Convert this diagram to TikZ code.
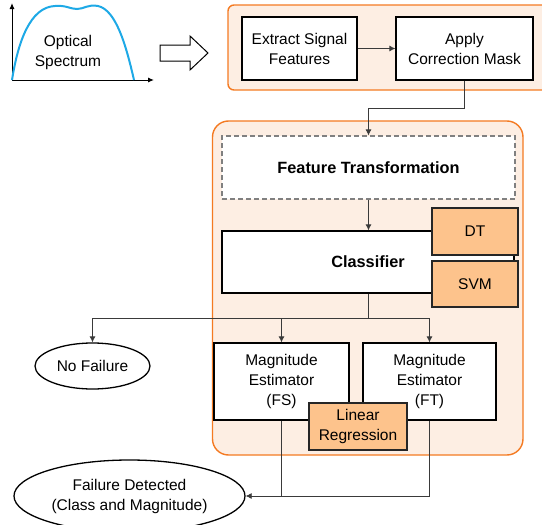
\documentclass[tikz,border=0pt]{standalone}
\usepackage{fontspec}
\setmainfont{Liberation Sans}
\usetikzlibrary{arrows.meta,shapes.geometric}
\definecolor{orgline}{HTML}{F47A22}
\definecolor{orgfill}{HTML}{FDEEE3}
\definecolor{orgbox}{HTML}{FDC38C}
\definecolor{specblue}{HTML}{1EA9E6}
\definecolor{conn}{HTML}{3A3A3A}
\tikzset{
  every node/.style={font=\fontsize{15.5}{20}\selectfont, align=center},
  boldtext/.style={font=\fontsize{16.3}{20}\selectfont\bfseries},
  container/.style={draw=orgline, fill=orgfill, line width=1.4pt},
  procbox/.style={draw=black, fill=white, line width=1.3pt, inner sep=0pt},
  algbox/.style={draw=black!85, fill=orgbox, line width=1.3pt, inner sep=0pt},
  dashbox/.style={draw=gray, fill=white, dashed, dash pattern=on 5pt off 3pt, line width=1.1pt, inner sep=0pt},
  endnode/.style={draw=black, fill=white, ellipse, line width=1.3pt, inner sep=0pt},
  link/.style={draw=conn, line width=0.8pt},
  linkarrow/.style={link, -{Latex[length=6pt,width=6pt]}},
}
\begin{document}
\begin{tikzpicture}[x=1pt,y=-1pt]
\useasboundingbox (0,0) rectangle (542,525);
% containers
\draw[container, rounded corners=6pt] (228,5) rectangle (560,90);
\draw[container, rounded corners=16pt] (212.5,121) rectangle (523,455);
% spectrum
\draw[line width=1pt, -{Latex[length=6pt,width=5pt]}] (12,80) -- (12,3);
\draw[line width=1pt, -{Latex[length=6pt,width=5pt]}] (12,80) -- (154,80);
\draw[specblue, line width=2pt] (12,80) .. controls (18,42) and (30,7) .. (55,6)
  .. controls (66,5) and (70,9) .. (77,9)
  .. controls (84,9) and (88,4) .. (98,6)
  .. controls (116,10) and (126,45) .. (134,80);
\node (spec) at (68,52) {Optical\\Spectrum};
\draw[line width=1pt, fill=white] (160,45) -- (190,45) -- (190,36) -- (208,53) -- (190,70) -- (190,61) -- (160,61) -- cycle;
% top row
\node[procbox, minimum width=115pt, minimum height=63pt] (extract) at (299.5,48.5) {Extract Signal\\Features};
\node[procbox, minimum width=137pt, minimum height=63pt] (apply) at (464.5,48.5) {Apply\\Correction Mask};
% inner
\node[dashbox, boldtext, minimum width=293pt, minimum height=63pt] (ftrans) at (368.5,167.5) {Feature Transformation};
\node[procbox, boldtext, minimum width=292pt, minimum height=62pt] (classifier) at (368,262) {Classifier};
\node[algbox, minimum width=86pt, minimum height=47pt] (dt) at (475,231.5) {DT};
\node[algbox, minimum width=86pt, minimum height=46pt] (svm) at (475,284) {SVM};
\node[endnode, minimum width=115pt, minimum height=46pt] (nofail) at (92.5,366) {No Failure};
\node[procbox, minimum width=135pt, minimum height=77pt] (magfs) at (281.5,381.5) {Magnitude\\Estimator\\(FS)};
\node[procbox, minimum width=133pt, minimum height=77pt] (magft) at (429.5,381.5) {Magnitude\\Estimator\\(FT)};
\node[algbox, minimum width=98pt, minimum height=47pt] (linreg) at (358,426.5) {Linear\\Regression};
\node[endnode, minimum width=231pt, minimum height=72pt] (faildet) at (129.5,496) {Failure Detected\\(Class and Magnitude)};
% connectors
\coordinate (c1) at (464.5,108);
\coordinate (c2) at (368.5,108);
\coordinate (split) at (368,318);
\coordinate (sl) at (92.5,318);
\coordinate (sr) at (429.5,318);
\coordinate (jl) at (281.5,496);
\coordinate (jr) at (429.5,496);
\draw[linkarrow] (extract.east) -- (apply.west);
\draw[linkarrow] (apply.south) -- (c1) -- (c2) -- (ftrans.north);
\draw[linkarrow] (ftrans.south) -- (ftrans.south |- classifier.north);
\draw[link] (classifier.south -| split) -- (split);
\draw[link] (sl) -- (sr);
\draw[linkarrow] (sl) -- (nofail.north);
\draw[linkarrow] (magfs.north |- split) -- (magfs.north);
\draw[linkarrow] (sr) -- (magft.north);
\draw[link] (magfs.south) -- (jl);
\draw[linkarrow] (magft.south) -- (jr) -- (faildet.east);
\end{tikzpicture}
\end{document}
